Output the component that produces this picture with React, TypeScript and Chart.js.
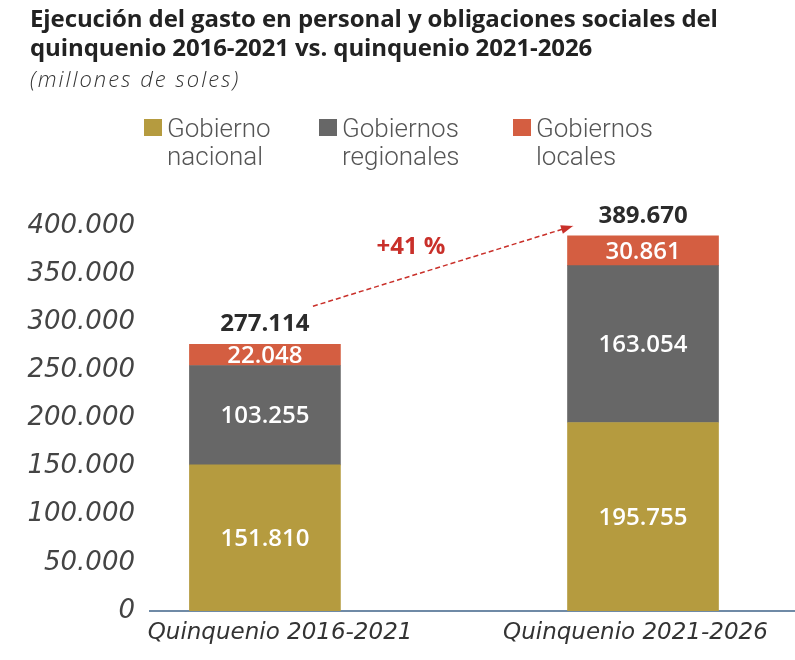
import React, { useEffect, useRef } from 'react';
import { Chart, registerables } from 'chart.js';

Chart.register(...registerables);

// data (millones de soles)
const periods = ['Quinquenio 2016-2021', 'Quinquenio 2021-2026'];
const nacional = [151810, 195755];
const regionales = [103255, 163054];
const locales = [22048, 30861];
const totals = [277114, 389670];
const yTicks = [0, 50000, 100000, 150000, 200000, 250000, 300000, 350000, 400000];

const seriesNames = ['Gobierno nacional', 'Gobiernos regionales', 'Gobiernos locales'];
const legendLines = [
  ['Gobierno', 'nacional'],
  ['Gobiernos', 'regionales'],
  ['Gobiernos', 'locales'],
];

const colors = {
  gold: '#b59b3f',
  grey: '#676767',
  red: '#d45e41',
  axis: '#6f8aa6',
  arrow: '#c9302a',
};
const seriesColors = [colors.gold, colors.grey, colors.red];

// the period labels sit a little off the bar centres in the original
const labelShift = [0.04, -0.02];

const fmt = (v: number) => String(v).replace(/\B(?=(\d{3})+(?!\d))/g, '.');

const labelsPlugin = {
  id: 'barLabels',
  afterDatasetsDraw(chart: any) {
    const { ctx } = chart;
    ctx.save();
    ctx.textAlign = 'center';
    ctx.textBaseline = 'middle';

    // values inside each segment
    chart.data.datasets.forEach((ds: any, di: number) => {
      const meta = chart.getDatasetMeta(di);
      meta.data.forEach((bar: any, i: number) => {
        const { x, y, base } = bar.getProps(['x', 'y', 'base'], true);
        ctx.font = '600 24px "Open Sans"';
        ctx.fillStyle = '#ffffff';
        ctx.fillText(fmt(ds.data[i].y), x, (y + base) / 2 + 1);
      });
    });

    // totals above the stacks
    const topMeta = chart.getDatasetMeta(chart.data.datasets.length - 1);
    const tops = topMeta.data.map((bar: any) => bar.getProps(['x', 'y'], true));
    ctx.font = 'bold 24px "Open Sans"';
    ctx.fillStyle = '#2b2b2b';
    tops.forEach((p: any, i: number) => ctx.fillText(fmt(totals[i]), p.x, p.y - 20));

    // dashed arrow with growth
    const sx = tops[0].x + 48;
    const sy = tops[0].y - 38;
    const ex = tops[1].x - 70;
    const ey = tops[1].y - 10;
    ctx.strokeStyle = colors.arrow;
    ctx.fillStyle = colors.arrow;
    ctx.lineWidth = 1.5;
    ctx.setLineDash([5, 3]);
    ctx.beginPath();
    ctx.moveTo(sx, sy);
    ctx.lineTo(ex, ey);
    ctx.stroke();
    ctx.setLineDash([]);
    const ang = Math.atan2(ey - sy, ex - sx);
    ctx.beginPath();
    ctx.moveTo(ex, ey);
    ctx.lineTo(ex - 12 * Math.cos(ang) + 4.5 * Math.sin(ang), ey - 12 * Math.sin(ang) - 4.5 * Math.cos(ang));
    ctx.lineTo(ex - 12 * Math.cos(ang) - 4.5 * Math.sin(ang), ey - 12 * Math.sin(ang) + 4.5 * Math.cos(ang));
    ctx.closePath();
    ctx.fill();

    const pct = Math.round((totals[1] / totals[0] - 1) * 100);
    ctx.font = 'bold 24px "Open Sans"';
    ctx.fillText('+' + pct + ' %', (sx + ex) / 2 - 32, (sy + ey) / 2 - 19);
    ctx.restore();
  },
};

const App: React.FC = () => {
  const canvasRef = useRef<HTMLCanvasElement>(null);
  const chartRef = useRef<Chart | null>(null);

  useEffect(() => {
    if (!canvasRef.current) return;
    const ctx = canvasRef.current.getContext('2d');
    if (!ctx) return;

    if (chartRef.current) {
      chartRef.current.destroy();
      chartRef.current = null;
    }

    const series = [nacional, regionales, locales];

    chartRef.current = new Chart(ctx, {
      type: 'bar',
      data: {
        datasets: series.map((vals, si) => ({
          label: seriesNames[si],
          data: vals.map((v, i) => ({ x: i, y: v })),
          backgroundColor: seriesColors[si],
          borderWidth: 0,
          barThickness: 151,
        })),
      },
      options: {
        animation: false,
        responsive: false,
        layout: { padding: { top: 226, left: 0, right: 0, bottom: 5.5 } },
        scales: {
          x: {
            type: 'linear',
            stacked: true,
            offset: false,
            min: -0.304,
            max: 1.402,
            afterBuildTicks: (scale: any) => {
              scale.ticks = periods.map((_, i) => ({ value: i + labelShift[i] }));
            },
            grid: { display: false, drawTicks: false },
            border: { display: true, color: colors.axis, width: 2 },
            ticks: {
              padding: 8,
              color: '#333',
              font: { family: '"DejaVu Sans"', style: 'italic', size: 23 },
              callback: (_v: any, i: number) => periods[i] ?? '',
            },
          },
          y: {
            stacked: true,
            min: 0,
            max: 400000,
            afterBuildTicks: (scale: any) => {
              scale.ticks = yTicks.map((v) => ({ value: v }));
            },
            afterFit: (scale: any) => {
              scale.width = 150;
            },
            grid: { display: false, drawTicks: false },
            border: { display: false },
            ticks: {
              padding: 15,
              color: '#444',
              font: { family: '"DejaVu Sans"', style: 'italic', size: 26 },
              callback: (v: any) => fmt(Number(v)),
            },
          },
        },
        plugins: {
          legend: { display: false },
          tooltip: { enabled: false },
        },
      },
      plugins: [labelsPlugin],
    });

    return () => {
      if (chartRef.current) {
        chartRef.current.destroy();
        chartRef.current = null;
      }
    };
  }, []);

  const legendX = [144, 319, 513];

  return (
    <div style={{ position: 'absolute', left: 0, top: 0, width: 795, height: 660, background: '#fff', overflow: 'hidden' }}>
      <canvas ref={canvasRef} width={795} height={660} style={{ position: 'absolute', left: 0, top: 0 }} />
      <div
        style={{
          position: 'absolute', left: 30, top: 3, fontFamily: '"Open Sans"', fontWeight: 700,
          fontSize: 24, lineHeight: '29px', color: '#222', letterSpacing: '-0.1px', whiteSpace: 'nowrap',
        }}
      >
        Ejecución del gasto en personal y obligaciones sociales del
        <br />
        quinquenio 2016-2021 vs. quinquenio 2021-2026
      </div>
      <div
        style={{
          position: 'absolute', left: 30, top: 64, fontFamily: '"Open Sans"', fontStyle: 'italic',
          fontWeight: 300, fontSize: 22, lineHeight: '28px', color: '#333', letterSpacing: '2px',
        }}
      >
        (millones de soles)
      </div>
      {legendLines.map((lines, i) => (
        <div key={i} style={{ position: 'absolute', left: legendX[i], top: 114 }}>
          <div style={{ position: 'absolute', left: 0, top: 5, width: 18, height: 17, background: seriesColors[i] }} />
          <div
            style={{
              position: 'absolute', left: 23, top: 0, fontFamily: 'Roboto', fontWeight: 300,
              fontSize: 26, lineHeight: '28px', color: '#555', whiteSpace: 'nowrap',
            }}
          >
            {lines[0]}
            <br />
            {lines[1]}
          </div>
        </div>
      ))}
    </div>
  );
};

export default App;
